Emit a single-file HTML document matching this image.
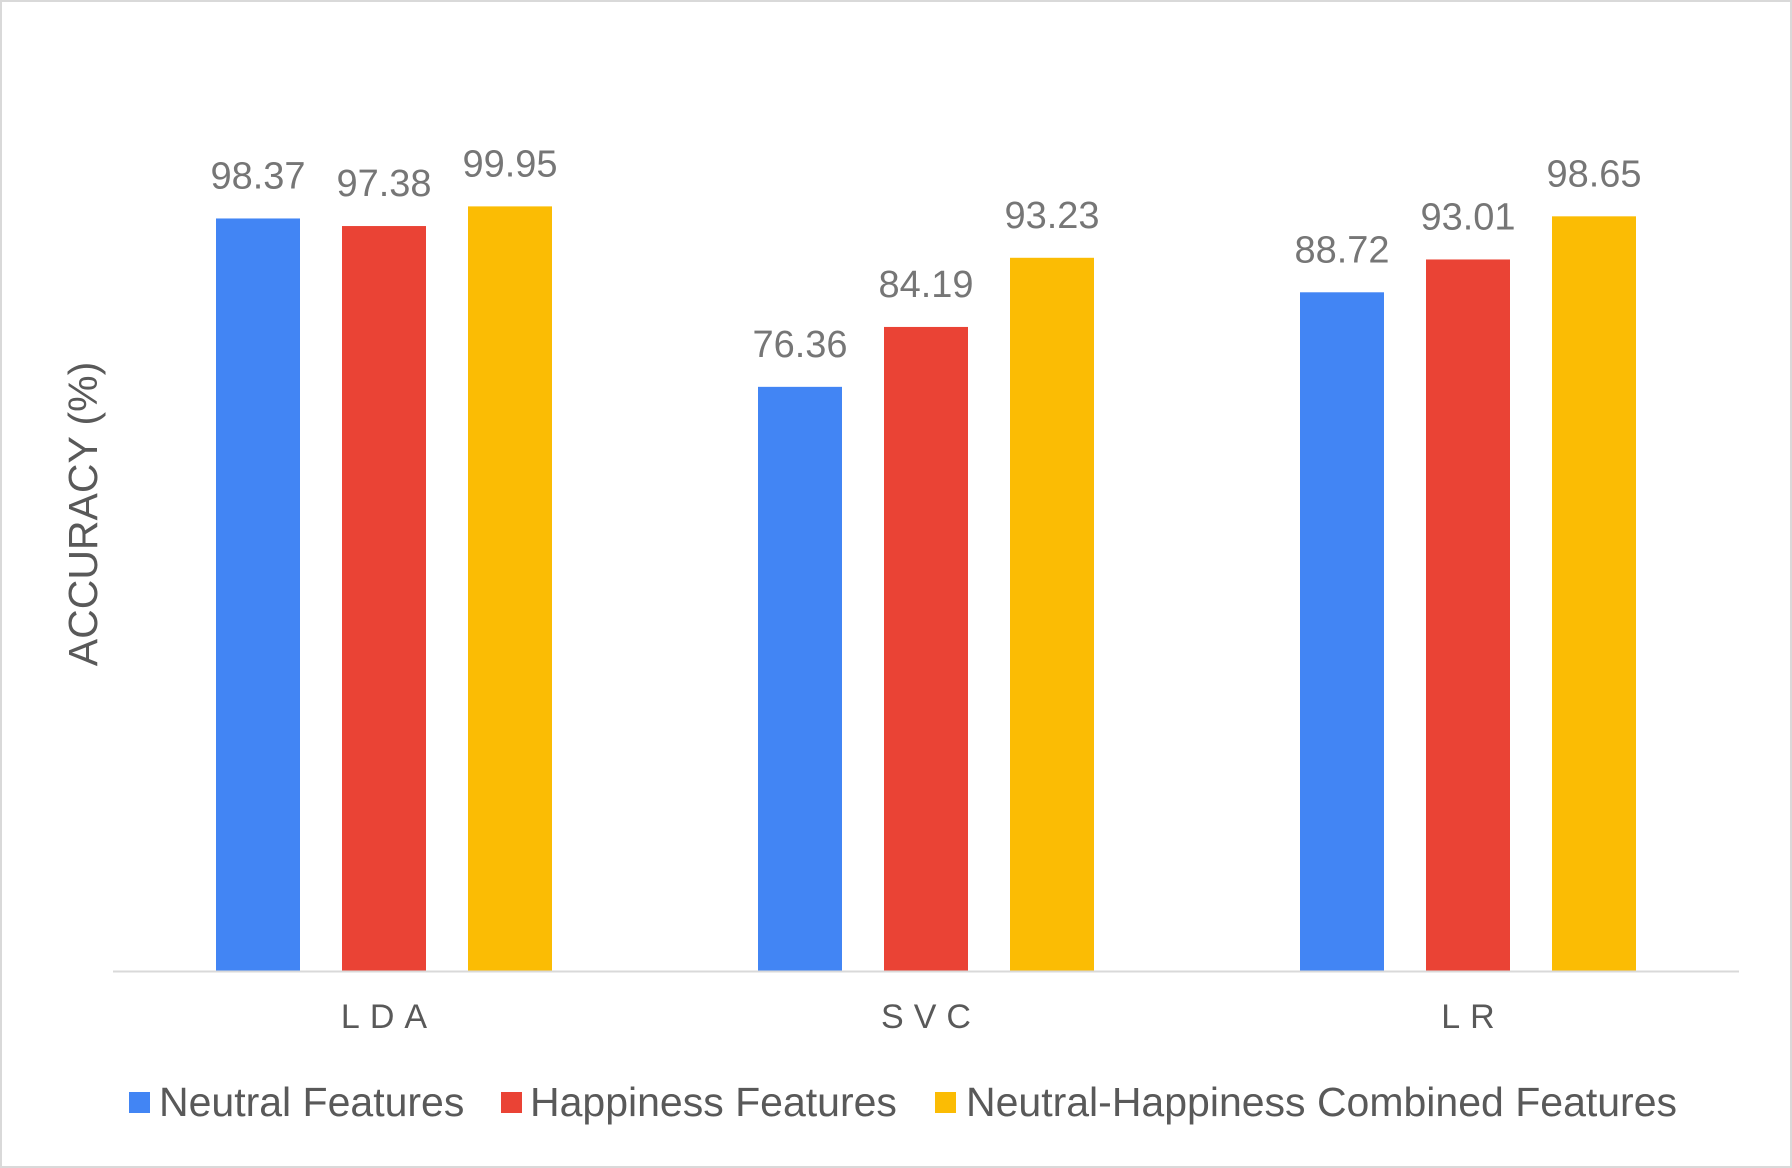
<!DOCTYPE html>
<html><head><meta charset="utf-8">
<style>
html,body{margin:0;padding:0;background:#fff;}
svg{display:block;font-family:"Liberation Sans",Arial,sans-serif;}
</style></head>
<body>
<svg id="chart" width="1792" height="1168" viewBox="0 0 1792 1168">
  <rect x="1" y="1" width="1790" height="1166" fill="#fff" stroke="#d9d9d9" stroke-width="2"/>
  <text x="0" y="0" transform="translate(97,514) rotate(-90)" text-anchor="middle" font-size="41" fill="#595959">ACCURACY (%)</text>
  <g id="bars"></g>
  <line x1="113" y1="971.5" x2="1739" y2="971.5" stroke="#d9d9d9" stroke-width="2"/>
  <g>
    <rect x="129" y="1092" width="21" height="21" fill="#4285f4"/>
    <text x="159" y="1116" font-size="41" fill="#595959">Neutral Features</text>
    <rect x="501" y="1092" width="21" height="21" fill="#ea4335"/>
    <text x="530" y="1116" font-size="41" fill="#595959">Happiness Features</text>
    <rect x="935" y="1092" width="21" height="21" fill="#fbbc04"/>
    <text x="966" y="1116" font-size="41" fill="#595959">Neutral-Happiness Combined Features</text>
  </g>
</svg>
<script>
const categories = ["LDA", "SVC", "LR"];
const neutral = [98.37, 76.36, 88.72];
const happiness = [97.38, 84.19, 93.01];
const combined = [99.95, 93.23, 98.65];
const seriesNames = ["neutral", "happiness", "combined"];
const colors = ["#4285f4", "#ea4335", "#fbbc04"];

const y0 = 971, yTop = 206, vMax = 100;
function yScale(v){ return y0 - (v / vMax) * (y0 - yTop); }
const plotLeft = 113, plotRight = 1739;
const groupW = (plotRight - plotLeft) / categories.length;
function xCenter(i){ return plotLeft + groupW * (i + 0.5); }
const barW = 84, pitch = 126;

const g = document.getElementById('bars');
const ns = "http://www.w3.org/2000/svg";
const series = [neutral, happiness, combined];
categories.forEach((c, i) => {
  const cx = xCenter(i);
  series.forEach((arr, s) => {
    const v = arr[i];
    const x = cx + (s - 1) * pitch - barW / 2;
    const r = document.createElementNS(ns, 'rect');
    r.setAttribute('x', x);
    r.setAttribute('y', yScale(v));
    r.setAttribute('width', barW);
    r.setAttribute('height', y0 - yScale(v));
    r.setAttribute('fill', colors[s]);
    
    
    g.appendChild(r);
    const t = document.createElementNS(ns, 'text');
    t.setAttribute('x', x + barW / 2);
    t.setAttribute('y', yScale(v) - 30);
    t.setAttribute('text-anchor', 'middle');
    t.setAttribute('font-size', '38');
    t.setAttribute('fill', '#767676');
    t.textContent = v.toFixed(2);
    
    
    g.appendChild(t);
  });
  const lab = document.createElementNS(ns, 'text');
  lab.setAttribute('x', cx + 5);
  lab.setAttribute('y', 1028);
  lab.setAttribute('text-anchor', 'middle');
  lab.setAttribute('font-size', '34');
  lab.setAttribute('letter-spacing', '10');
  lab.setAttribute('fill', '#595959');
  lab.textContent = c;
  
  
  g.appendChild(lab);
});
</script>
</body></html>
